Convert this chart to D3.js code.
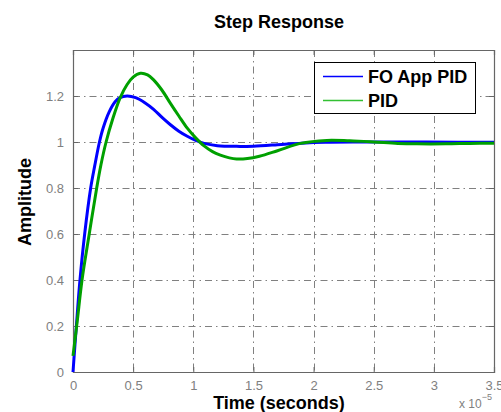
<!DOCTYPE html>
<html><head><meta charset="utf-8">
<script src="https://cdn.jsdelivr.net/npm/d3@7"></script>
<style>body{margin:0;background:#fff}svg{display:block;font-family:"Liberation Sans",Arial,sans-serif}</style>
</head><body>
<script>
// Data (time in units of 1e-5 s)
const foTime = [0, 0.028, 0.058, 0.097, 0.147, 0.18, 0.22, 0.25, 0.3, 0.35, 0.39, 0.45, 0.52, 0.6, 0.67, 0.74, 0.81, 0.88, 0.95, 1.02, 1.09, 1.2, 1.36, 1.5, 1.7, 1.9, 2.1, 2.4, 2.8, 3.2, 3.5];
const foValues = [0, 0.2, 0.4, 0.6, 0.8, 0.895, 1.0, 1.06, 1.13, 1.175, 1.193, 1.2, 1.193, 1.17, 1.142, 1.107, 1.075, 1.047, 1.025, 1.007, 0.994, 0.984, 0.981, 0.982, 0.988, 0.995, 0.999, 1.0, 1.0, 0.999, 0.999];
const pidTime = [0, 0.035, 0.075, 0.135, 0.197, 0.232, 0.275, 0.33, 0.39, 0.45, 0.5, 0.56, 0.62, 0.67, 0.74, 0.81, 0.88, 0.95, 1.02, 1.09, 1.16, 1.225, 1.3, 1.36, 1.45, 1.55, 1.7, 1.89, 2.11, 2.3, 2.5, 2.7, 2.86, 3.1, 3.3, 3.5];
const pidValues = [0.07, 0.22, 0.4, 0.6, 0.8, 0.9, 1.0, 1.1, 1.19, 1.25, 1.282, 1.299, 1.292, 1.27, 1.225, 1.168, 1.113, 1.06, 1.018, 0.983, 0.958, 0.943, 0.931, 0.926, 0.928, 0.938, 0.962, 0.994, 1.007, 1.005, 1.0, 0.994, 0.992, 0.992, 0.994, 0.995];
const xTicks = [0, 0.5, 1, 1.5, 2, 2.5, 3, 3.5];
const yTicks = [0, 0.2, 0.4, 0.6, 0.8, 1, 1.2];
const seriesNames = ["FO App PID", "PID"];

const W = 501, H = 412;
const L = 73, R = 494, T = 50, B = 372;
const svg = d3.select("body").append("svg").attr("width", W).attr("height", H);
const x = d3.scaleLinear().domain([0, 3.5]).range([L, R]);
const y = d3.scaleLinear().domain([0, 1.4]).range([B, T]);

svg.append("rect").attr("x", L).attr("y", T).attr("width", R - L).attr("height", B - T).attr("fill", "#fff");

// grid
const gridDash = "7,4,1.5,4";
svg.append("g").selectAll("line").data(xTicks.filter(d => d > 0 && d < 3.5)).join("line")
  .attr("x1", d => Math.round(x(d)) + 0.5).attr("x2", d => Math.round(x(d)) + 0.5)
  .attr("y1", T).attr("y2", B).attr("stroke", "#808080").attr("stroke-width", 1).attr("stroke-dasharray", gridDash);
svg.append("g").selectAll("line").data(yTicks.filter(d => d > 0)).join("line")
  .attr("y1", d => Math.round(y(d)) + 0.5).attr("y2", d => Math.round(y(d)) + 0.5)
  .attr("x1", L).attr("x2", R).attr("stroke", "#808080").attr("stroke-width", 1).attr("stroke-dasharray", gridDash);

// axes with inner ticks
const tickCol = "#666";
const axB = svg.append("g").attr("transform", `translate(0,${B})`)
  .call(d3.axisBottom(x).tickValues(xTicks).tickSize(-5).tickPadding(9).tickFormat(d3.format("")));
const axT = svg.append("g").attr("transform", `translate(0,${T})`)
  .call(d3.axisTop(x).tickValues(xTicks).tickSize(-5).tickFormat(""));
const axL = svg.append("g").attr("transform", `translate(${L},0)`)
  .call(d3.axisLeft(y).tickValues(yTicks).tickSize(-5).tickPadding(9).tickFormat(d3.format("")));
const axR = svg.append("g").attr("transform", `translate(${R},0)`)
  .call(d3.axisRight(y).tickValues(yTicks).tickSize(-5).tickFormat(""));
[axB, axT, axL, axR].forEach(g => {
  g.select(".domain").attr("stroke", tickCol).attr("stroke-width", 1.2);
  g.selectAll(".tick line").attr("stroke", tickCol);
  g.selectAll("text").attr("fill", "#808080").attr("font-size", 13).attr("font-family", "Liberation Sans, Arial, sans-serif");
});

// lines
const line = d3.line().curve(d3.curveCatmullRom.alpha(0.5));
const foPts = foTime.map((t, i) => [x(t), y(foValues[i])]);
const pidPts = pidTime.map((t, i) => [x(t), y(pidValues[i])]);
svg.append("path").attr("d", line(foPts)).attr("fill", "none").attr("stroke", "#0000ff").attr("stroke-width", 3);
svg.append("path").attr("d", line(pidPts)).attr("fill", "none").attr("stroke", "#00a000").attr("stroke-width", 3);

// legend
const lg = svg.append("g");
lg.append("rect").attr("x", 314.5).attr("y", 62.5).attr("width", 161).attr("height", 51).attr("fill", "#fff").attr("stroke", "#000").attr("stroke-width", 1);
const legCols = ["#0000ff", "#33c033"];
seriesNames.forEach((n, i) => {
  const yy = 76 + i * 24;
  lg.append("line").attr("x1", 323).attr("x2", 363).attr("y1", yy + 0.5).attr("y2", yy + 0.5).attr("stroke", legCols[i]).attr("stroke-width", 1.5);
  lg.append("text").attr("x", 368).attr("y", yy + 7).attr("font-size", 18).attr("font-weight", "bold").attr("fill", "#000").text(n);
});

// titles
svg.append("text").attr("x", 279).attr("y", 28).attr("text-anchor", "middle").attr("font-size", 18).attr("font-weight", "bold").text("Step Response");
svg.append("text").attr("x", 279).attr("y", 409).attr("text-anchor", "middle").attr("font-size", 18).attr("font-weight", "bold").text("Time (seconds)");
svg.append("text").attr("transform", "translate(31,202) rotate(-90)").attr("text-anchor", "middle").attr("font-size", 18).attr("font-weight", "bold").text("Amplitude");
const ex = svg.append("text").attr("x", 459).attr("y", 408).attr("font-size", 12).attr("fill", "#808080");
ex.append("tspan").text("x 10");
ex.append("tspan").attr("font-size", 9).attr("dy", -8).text("\u22125");
</script>
</body></html>
